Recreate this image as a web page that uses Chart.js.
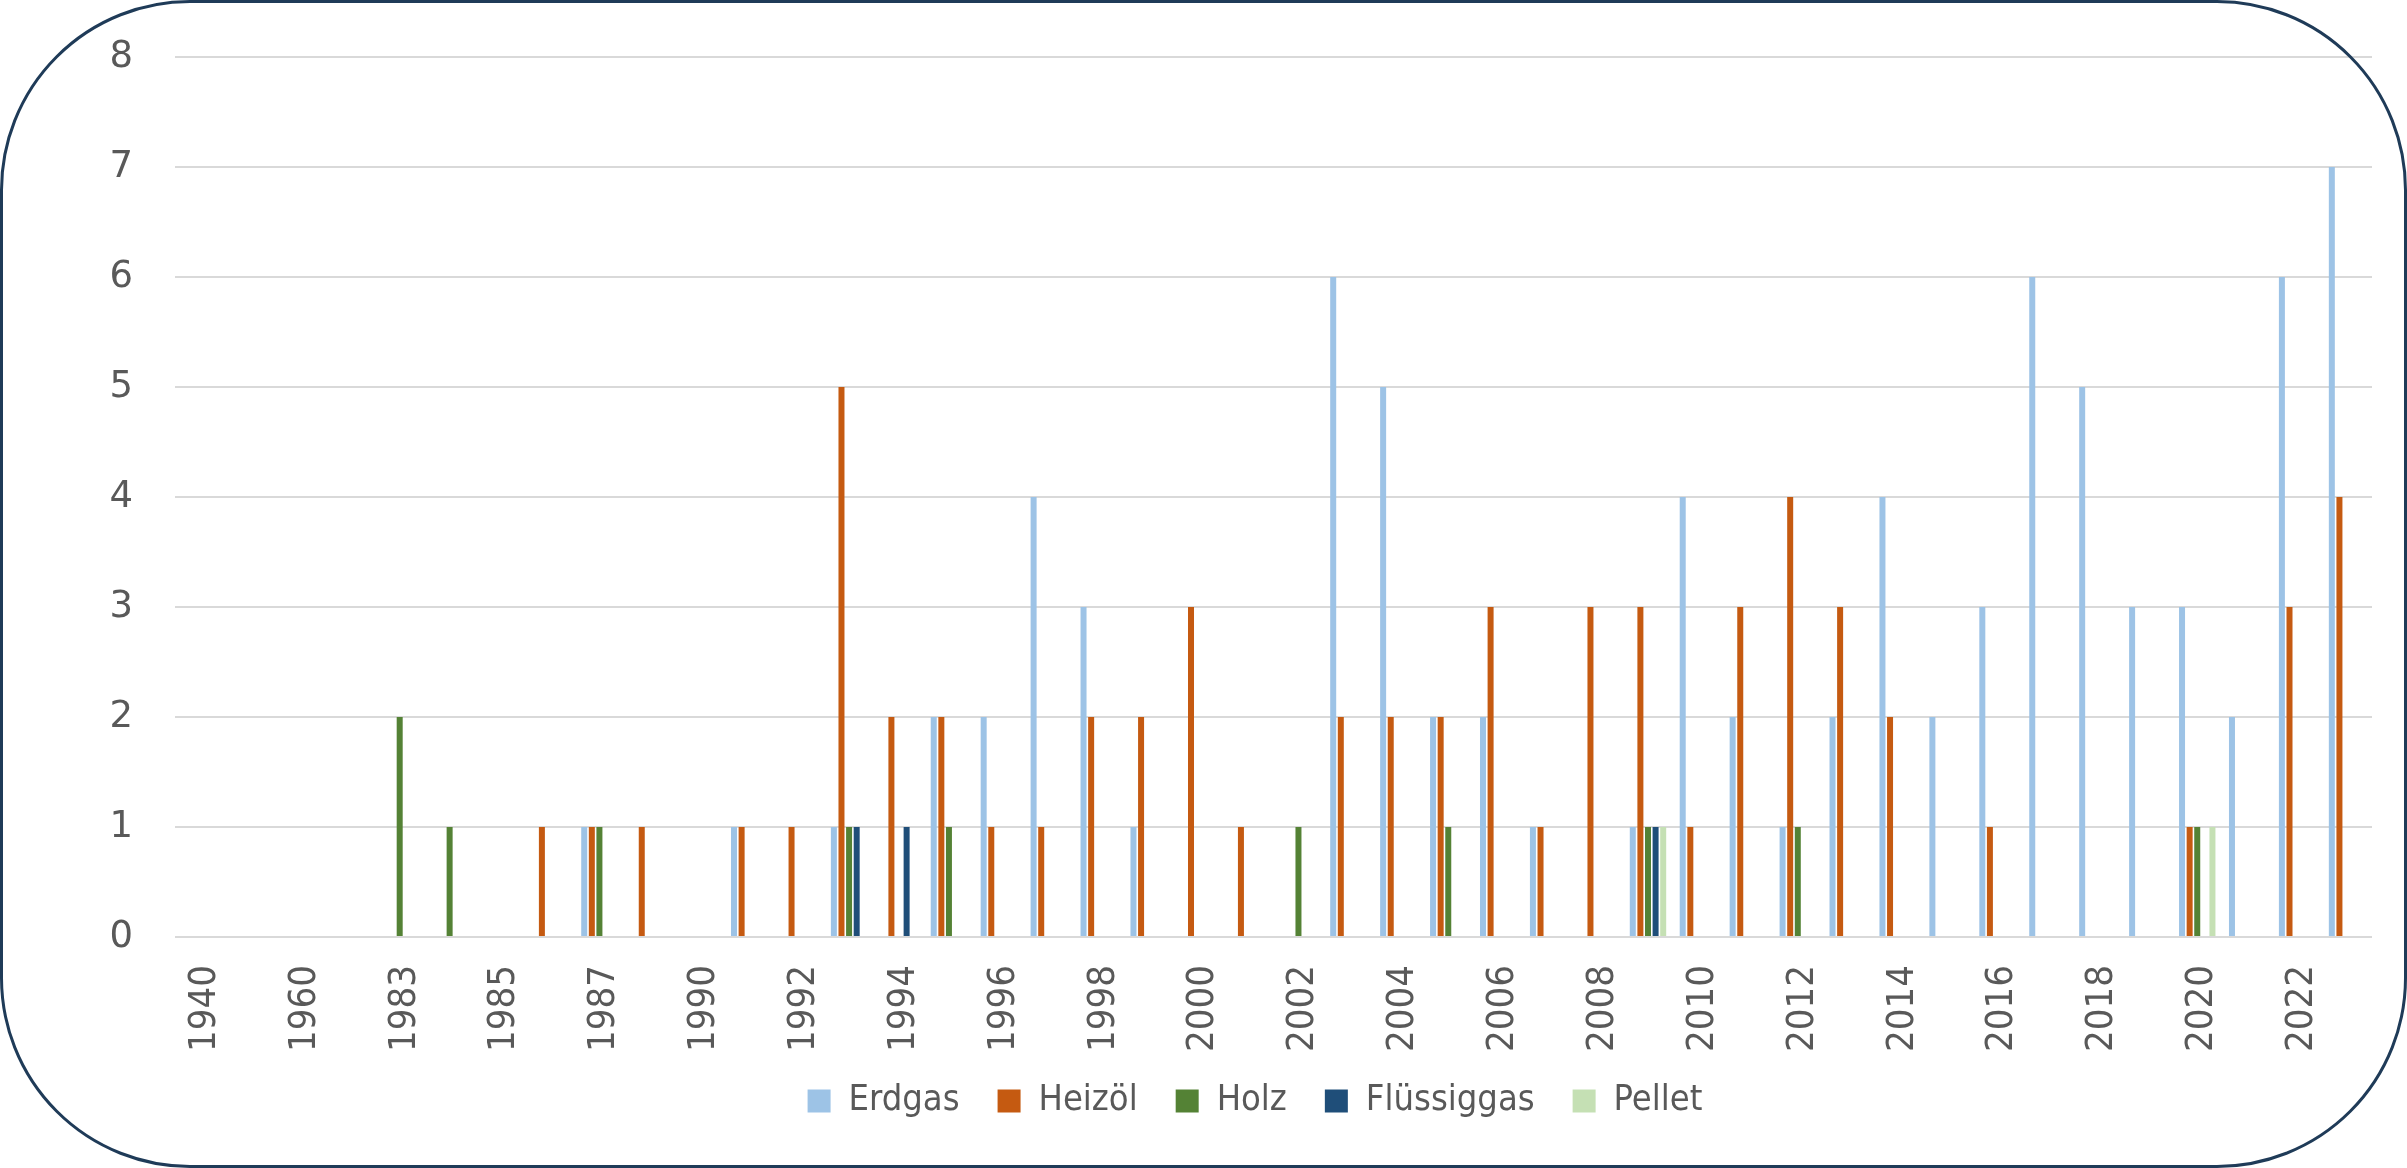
<!DOCTYPE html>
<html>
<head>
<meta charset="utf-8">
<script src="https://cdn.jsdelivr.net/npm/chart.js@4/dist/chart.umd.min.js"></script>
<style>
  html, body { margin: 0; padding: 0; background: #ffffff; }
  #wrap { position: relative; width: 2407px; height: 1168px; overflow: hidden; }
  #wrap canvas { position: absolute; left: 0; top: 0; }
  #frame {
    position: absolute; left: 0; top: 0; width: 2407px; height: 1168px;
    box-sizing: border-box; border: 3px solid #1F3B58; border-radius: 190px;
    pointer-events: none;
  }
</style>
</head>
<body>
<div id="wrap">
  <canvas id="chart" width="2407" height="1168"></canvas>
  <div id="frame"></div>
</div>
<script>
// Baujahr der Heizung, Anzahl je Energieträger
const years = [
  '1940', '1950', '1960', '1970', '1983', '1984', '1985', '1986', '1987', '1988',
  '1990', '1991', '1992', '1993', '1994', '1995', '1996', '1997', '1998', '1999',
  '2000', '2001', '2002', '2003', '2004', '2005', '2006', '2007', '2008', '2009',
  '2010', '2011', '2012', '2013', '2014', '2015', '2016', '2017', '2018', '2019',
  '2020', '2021', '2022', '2023'
];

const erdgas = [
  null, null, null, null, null, null, null, null, 1, null,
  null, 1, null, 1, null, 2, 2, 4, 3, 1,
  null, null, null, 6, 5, 2, 2, 1, null, 1,
  4, 2, 1, 2, 4, 2, 3, 6, 5, 3,
  3, 2, 6, 7
];

const heizoel = [
  null, null, null, null, null, null, null, 1, 1, 1,
  null, 1, 1, 5, 2, 2, 1, 1, 2, 2,
  3, 1, null, 2, 2, 2, 3, 1, 3, 3,
  1, 3, 4, 3, 2, null, 1, null, null, null,
  1, null, 3, 4
];

const holz = [
  null, null, null, null, 2, 1, null, null, 1, null,
  null, null, null, 1, null, 1, null, null, null, null,
  null, null, 1, null, null, 1, null, null, null, 1,
  null, null, 1, null, null, null, null, null, null, null,
  1, null, null, null
];

const fluessiggas = [
  null, null, null, null, null, null, null, null, null, null,
  null, null, null, 1, 1, null, null, null, null, null,
  null, null, null, null, null, null, null, null, null, 1,
  null, null, null, null, null, null, null, null, null, null,
  null, null, null, null
];

const pellet = [
  null, null, null, null, null, null, null, null, null, null,
  null, null, null, null, null, null, null, null, null, null,
  null, null, null, null, null, null, null, null, null, 1,
  null, null, null, null, null, null, null, null, null, null,
  1, null, null, null
];

const yMin = 0;
const yMax = 8;
const yStep = 1;

const FONT_NARROW = "'DejaVu Sans Condensed', 'DejaVu Sans', sans-serif";
const FONT_WIDE = "'DejaVu Sans', sans-serif";
const TEXT = '#595959';

function series(label, data, color) {
  return { label, data, backgroundColor: color, borderWidth: 0 };
}

// Let the axis labels draw beyond the narrow boxes the layout gives the scales.
const widenLabelAreas = {
  id: 'widenLabelAreas',
  afterLayout(chart) {
    chart.scales.y.left = 0;
    chart.scales.x.bottom = chart.height;
  }
};

new Chart(document.getElementById('chart'), {
  type: 'bar',
  data: {
    labels: years,
    datasets: [
      series('Erdgas', erdgas, '#9DC3E6'),
      series('Heizöl', heizoel, '#C55A11'),
      series('Holz', holz, '#548235'),
      series('Flüssiggas', fluessiggas, '#1F4E79'),
      series('Pellet', pellet, '#C5E0B4')
    ]
  },
  plugins: [widenLabelAreas],
  options: {
    responsive: false,
    animation: false,
    devicePixelRatio: 1,
    layout: { padding: { left: 138, right: 35, top: 57, bottom: 39 } },
    datasets: { bar: { categoryPercentage: 0.761, barPercentage: 0.79 } },
    scales: {
      x: {
        grid: { display: false, drawTicks: false },
        border: { display: false },
        ticks: {
          autoSkip: false,
          minRotation: 90,
          maxRotation: 90,
          padding: 28,
          labelOffset: 5,
          color: TEXT,
          font: { family: FONT_NARROW, size: 38 },
          // every second year is labelled
          callback(value, index) {
            return index % 2 === 0 ? this.getLabelForValue(value) : '';
          }
        },
        afterFit(scale) {
          scale.height = 108;
          scale.paddingLeft = 0;
          scale.paddingRight = 0;
        }
      },
      y: {
        min: yMin,
        max: yMax,
        grid: { color: '#D9D9D9', lineWidth: 2, drawTicks: false },
        border: { display: false },
        ticks: { stepSize: yStep, padding: 42, color: TEXT, font: { family: FONT_WIDE, size: 37 } },
        afterFit(scale) {
          scale.width = 37;
          scale.paddingTop = 0;
          scale.paddingBottom = 0;
        }
      }
    },
    plugins: {
      legend: {
        position: 'bottom',
        labels: {
          boxWidth: 23,
          boxHeight: 23,
          padding: 38,
          color: TEXT,
          font: { family: FONT_NARROW, size: 36 }
        }
      },
      tooltip: { enabled: false }
    }
  }
});
</script>
</body>
</html>
